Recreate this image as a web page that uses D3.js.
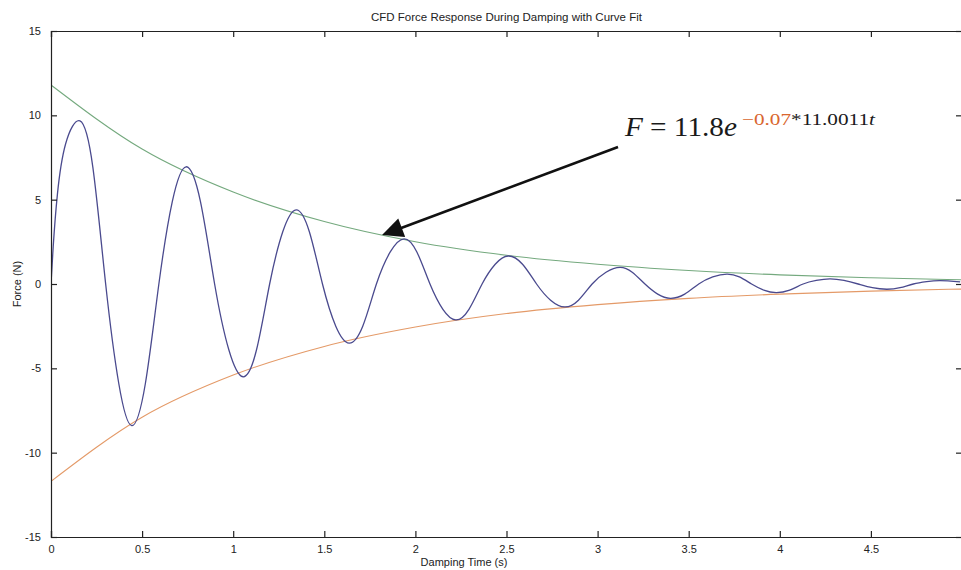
<!DOCTYPE html>
<html>
<head>
<meta charset="utf-8">
<script src="https://cdn.jsdelivr.net/npm/d3@7"></script>
<style>
  html, body { margin: 0; padding: 0; background: #fff; }
  svg { display: block; }
</style>
</head>
<body>
<script>
// ---------------- data ----------------
const responseT = [0.000,0.012,0.035,0.080,0.159,0.230,0.300,0.372,0.443,0.518,0.592,0.666,0.741,0.820,0.898,0.976,1.054,1.128,1.200,1.272,1.345,1.418,1.490,1.563,1.636,1.711,1.786,1.862,1.937,2.008,2.080,2.151,2.222,2.294,2.366,2.438,2.510,2.588,2.665,2.742,2.820,2.895,2.970,3.046,3.123,3.190,3.260,3.330,3.400,3.478,3.555,3.632,3.710,3.778,3.845,3.912,3.980,4.054,4.128,4.200,4.275,4.352,4.430,4.508,4.587,4.660,4.733,4.806,4.880,4.990];
const responseF = [0.00,2.2,5.3,8.3,9.67,6.9,0.0,-5.9,-8.40,-5.9,0.0,4.9,6.95,4.9,0.0,-3.9,-5.50,-3.9,0.0,3.1,4.40,3.1,0.0,-2.5,-3.50,-2.5,0.0,1.9,2.68,1.9,0.0,-1.5,-2.13,-1.5,0.0,1.17,1.66,1.17,0.0,-0.96,-1.36,-0.96,0.0,0.70,0.99,0.70,0.0,-0.60,-0.85,-0.60,0.0,0.42,0.59,0.42,0.0,-0.36,-0.51,-0.36,0.0,0.21,0.30,0.21,0.0,-0.22,-0.31,-0.22,0.0,0.14,0.20,0.12];

const envelopeT     = [0, 0.5, 1, 1.5, 2, 2.5, 3, 3.5, 4, 4.5, 5];
const upperFitF     = [11.8, 8.0, 5.45, 3.7, 2.5, 1.7, 1.17, 0.8, 0.54, 0.37, 0.25];
const lowerFitF     = [-11.7, -7.9, -5.4, -3.7, -2.55, -1.75, -1.22, -0.85, -0.6, -0.42, -0.3];

const xTicks = [0, 0.5, 1, 1.5, 2, 2.5, 3, 3.5, 4, 4.5];
const xTickLabels = ["0", "0.5", "1", "1.5", "2", "2.5", "3", "3.5", "4", "4.5"];
const yTicks = [-15, -10, -5, 0, 5, 10, 15];
const yTickLabels = ["-15", "-10", "-5", "0", "5", "10", "15"];

const titleText = "CFD Force Response During Damping with Curve Fit";
const xLabelText = "Damping Time (s)";
const yLabelText = "Force (N)";

// annotation anchor points in data units
const arrowTail = [3.112, 8.12];
const arrowTip  = [1.817, 2.9];
const eqAnchor  = [3.15, 8.77];

// ---------------- drawing ----------------
const W = 961, H = 570;
const plot = { left: 51, right: 962, top: 31, bottom: 537 };

const svg = d3.select("body").append("svg").attr("width", W).attr("height", H);

const x = d3.scaleLinear().domain([0, 5]).range([plot.left, plot.right]);
const y = d3.scaleLinear().domain([-15, 15]).range([plot.bottom, plot.top]);

svg.append("defs").append("clipPath").attr("id", "clip")
  .append("rect").attr("x", plot.left).attr("y", plot.top)
  .attr("width", plot.right - plot.left).attr("height", plot.bottom - plot.top);

const g = svg.append("g").attr("clip-path", "url(#clip)");

const line = d3.line().x(d => x(d[0])).y(d => y(d[1])).curve(d3.curveNatural);
const envLine = d3.line().x(d => x(d[0])).y(d => y(d[1])).curve(d3.curveMonotoneX);

g.append("path").datum(envelopeT.map((t, i) => [t, upperFitF[i]]))
  .attr("d", envLine).attr("fill", "none").attr("stroke", "#74a97e").attr("stroke-width", 1.1);
g.append("path").datum(envelopeT.map((t, i) => [t, lowerFitF[i]]))
  .attr("d", envLine).attr("fill", "none").attr("stroke", "#e49a68").attr("stroke-width", 1.1);
g.append("path").datum(responseT.map((t, i) => [t, responseF[i]]))
  .attr("d", line).attr("fill", "none").attr("stroke", "#4a4a8e").attr("stroke-width", 1.3);

// axes (MATLAB style: box, inward ticks on all sides)
const font = "'Liberation Sans', Arial, sans-serif";
const tickLen = 6;

const axBottom = d3.axisBottom(x).tickValues(xTicks).tickSize(-tickLen)
  .tickFormat((d, i) => xTickLabels[i]).tickPadding(8);
const axTop = d3.axisTop(x).tickValues(xTicks).tickSize(-tickLen).tickFormat("");
const axLeft = d3.axisLeft(y).tickValues(yTicks).tickSize(-tickLen)
  .tickFormat((d, i) => yTickLabels[i]).tickPadding(10);
const axRight = d3.axisRight(y).tickValues(yTicks).tickSize(-tickLen).tickFormat("");

function styleAxis(sel) {
  sel.select(".domain").attr("stroke", "#222").attr("stroke-width", 1.2);
  sel.selectAll(".tick line").attr("stroke", "#222").attr("stroke-width", 1.2);
  sel.selectAll(".tick text").attr("fill", "#222").style("font-family", font).style("font-size", "11px");
}

svg.append("g").attr("transform", `translate(0,${plot.bottom})`).call(axBottom).call(styleAxis);
svg.append("g").attr("transform", `translate(0,${plot.top})`).call(axTop).call(styleAxis);
svg.append("g").attr("transform", `translate(${plot.left},0)`).call(axLeft).call(styleAxis);
svg.append("g").attr("transform", `translate(${plot.right},0)`).call(axRight).call(styleAxis);

// titles
svg.append("text").attr("x", (plot.left + plot.right) / 2).attr("y", 21)
  .attr("text-anchor", "middle").style("font-family", font).style("font-size", "11.5px")
  .attr("fill", "#222").text(titleText);
svg.append("text").attr("x", 464).attr("y", 566)
  .attr("text-anchor", "middle").style("font-family", font).style("font-size", "11px")
  .attr("fill", "#222").text(xLabelText);
svg.append("text").attr("transform", `translate(21,${y(0)}) rotate(-90)`)
  .attr("text-anchor", "middle").style("font-family", font).style("font-size", "11px")
  .attr("fill", "#222").text(yLabelText);

// annotation arrow
const tx = x(arrowTail[0]), ty = y(arrowTail[1]);
const hx = x(arrowTip[0]), hy = y(arrowTip[1]);
const dx = tx - hx, dy = ty - hy, len = Math.hypot(dx, dy);
const ux = dx / len, uy = dy / len;
const headLen = 21, headHalf = 10;
const bx = hx + ux * headLen, by = hy + uy * headLen;
svg.append("line").attr("x1", tx).attr("y1", ty).attr("x2", bx - ux * 2).attr("y2", by - uy * 2)
  .attr("stroke", "#111").attr("stroke-width", 2.6);
svg.append("path")
  .attr("d", `M${hx},${hy}L${bx - uy * headHalf},${by + ux * headHalf}L${bx + uy * headHalf},${by - ux * headHalf}Z`)
  .attr("fill", "#111");

// equation
const ex = x(eqAnchor[0]), ey = y(eqAnchor[1]);
const serif = "'Liberation Serif', 'DejaVu Serif', serif";
const eq = svg.append("text").attr("x", ex).attr("y", ey)
  .attr("textLength", 112).attr("lengthAdjust", "spacingAndGlyphs")
  .style("font-family", serif).style("font-size", "28px").attr("fill", "#1a1a1a");
eq.append("tspan").style("font-style", "italic").text("F");
eq.append("tspan").text(" = 11.8");
eq.append("tspan").style("font-style", "italic").text("e");

const sup = svg.append("text").attr("x", ex + 117).attr("y", ey - 11)
  .attr("textLength", 133).attr("lengthAdjust", "spacingAndGlyphs")
  .style("font-family", serif).style("font-size", "16px");
sup.append("tspan").attr("fill", "#d9662e").text("\u22120.07");
sup.append("tspan").attr("fill", "#1a1a1a").text("*11.0011");
sup.append("tspan").attr("fill", "#1a1a1a").style("font-style", "italic").text("t");
</script>
</body>
</html>
